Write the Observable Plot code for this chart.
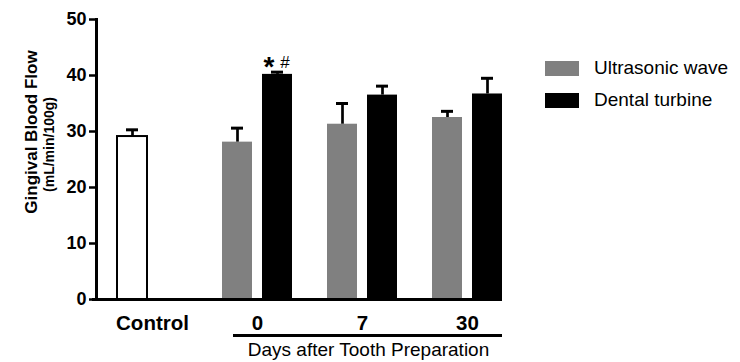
<!DOCTYPE html>
<html>
<head>
<meta charset="utf-8">
<script src="https://cdn.jsdelivr.net/npm/d3@7"></script>
<script src="https://cdn.jsdelivr.net/npm/@observablehq/plot@0.6"></script>
<style>
  body { margin: 0; background: #fff; font-family: "Liberation Sans", Arial, sans-serif; }
  #wrap { position: relative; width: 740px; height: 362px; }
  .leg { position: absolute; left: 545px; height: 20px; display: flex; align-items: center; font-size: 19px; color: #000; white-space: nowrap; }
  .sw { width: 34px; height: 15px; margin-right: 15px; }
</style>
</head>
<body>
<div id="wrap"></div>
<script>
// ---- data ----
const days = ["0", "7", "30"];
const groups = ["Control", "0", "7", "30"];
const seriesNames = ["Ultrasonic wave", "Dental turbine"];
const seriesColors = ["#808080", "#000000"];
const controlMean = [29.1];
const controlErr = [1.2];
const ultrasonicMean = [28.1, 31.3, 32.5];
const ultrasonicErr = [2.5, 3.7, 1.1];
const turbineMean = [40.2, 36.5, 36.7];
const turbineErr = [0.4, 1.6, 2.8];
const yTicks = [0, 10, 20, 30, 40, 50];
const sigGroups = ["0"];
const sigStar = ["*"];
const sigHash = ["#"];

const control = [{group: "Control", mean: controlMean[0], err: controlErr[0]}];
const ultra = days.map((g, i) => ({group: g, mean: ultrasonicMean[i], err: ultrasonicErr[i]}));
const turb = days.map((g, i) => ({group: g, mean: turbineMean[i], err: turbineErr[i]}));
const left = control.concat(ultra);
const sig = sigGroups.map((g, i) => ({group: g, top: turbineMean[days.indexOf(g)] + turbineErr[days.indexOf(g)], star: sigStar[i], hash: sigHash[i]}));

const chart = Plot.plot({
  width: 740,
  height: 362,
  marginLeft: 96,
  marginRight: 217,
  marginTop: 19,
  marginBottom: 63,
  style: {fontFamily: "'Liberation Sans', Arial, sans-serif", color: "#000", background: "transparent"},
  x: {domain: groups, paddingInner: 1/3, paddingOuter: 0.2, label: null},
  y: {domain: [0, 50], label: null},
  marks: [
    Plot.barY(control, {x: "group", y: "mean", fill: "white", stroke: "black", strokeWidth: 2, insetRight: 40}),
    Plot.barY(ultra, {x: "group", y: "mean", fill: seriesColors[0], insetRight: 40}),
    Plot.barY(turb, {x: "group", y: "mean", fill: seriesColors[1], insetLeft: 40}),
    Plot.ruleX(left, {x: "group", y1: "mean", y2: d => d.mean + d.err, dx: -20, strokeWidth: 2.7}),
    Plot.ruleX(turb, {x: "group", y1: "mean", y2: d => d.mean + d.err, dx: 20, strokeWidth: 2.7}),
    Plot.tickY(left, {x: "group", y: d => d.mean + d.err, insetLeft: 9, insetRight: 49, strokeWidth: 3}),
    Plot.tickY(turb, {x: "group", y: d => d.mean + d.err, insetLeft: 49, insetRight: 9, strokeWidth: 3}),
    Plot.text(sig, {x: "group", y: "top", text: "star", dx: 11.5, dy: -5, fontSize: 28, fontWeight: "bold"}),
    Plot.text(sig, {x: "group", y: "top", text: "hash", dx: 27.5, dy: -10, fontSize: 17}),
    Plot.axisY({ticks: yTicks, tickSize: 7, tickPadding: 3, strokeWidth: 2.5, fontSize: 18, fontWeight: "bold", label: null}),
    Plot.axisX({tickSize: 0, tickPadding: 16, fontSize: 20.5, fontWeight: "bold", label: null}),
    Plot.frame({anchor: "left", strokeWidth: 3}),
    Plot.ruleY([0], {strokeWidth: 3, insetLeft: -4, insetRight: 21}),
    Plot.ruleY([0], {dy: 36, strokeWidth: 3, insetLeft: 137, insetRight: 21}),
    Plot.text(["Days after Tooth Preparation"], {frameAnchor: "bottom", dx: 58.5, dy: 56, fontSize: 19}),
    Plot.text(["Gingival Blood Flow"], {frameAnchor: "left", textAnchor: "middle", rotate: -90, dx: -65.4, dy: -27.5, fontSize: 17, fontWeight: "bold"}),
    Plot.text(["(mL/min/100g)"], {frameAnchor: "left", textAnchor: "middle", rotate: -90, dx: -47, dy: -15, fontSize: 14, fontWeight: "bold"})
  ]
});
const wrap = document.getElementById("wrap");
wrap.appendChild(chart);

// legend
const legendY = [68, 100];
seriesNames.forEach((name, i) => {
  const row = document.createElement("div");
  row.className = "leg";
  row.style.top = (legendY[i] - 10) + "px";
  const sw = document.createElement("div");
  sw.className = "sw";
  sw.style.background = seriesColors[i];
  const t = document.createElement("span");
  t.textContent = name;
  row.appendChild(sw);
  row.appendChild(t);
  wrap.appendChild(row);
});
</script>
</body>
</html>
